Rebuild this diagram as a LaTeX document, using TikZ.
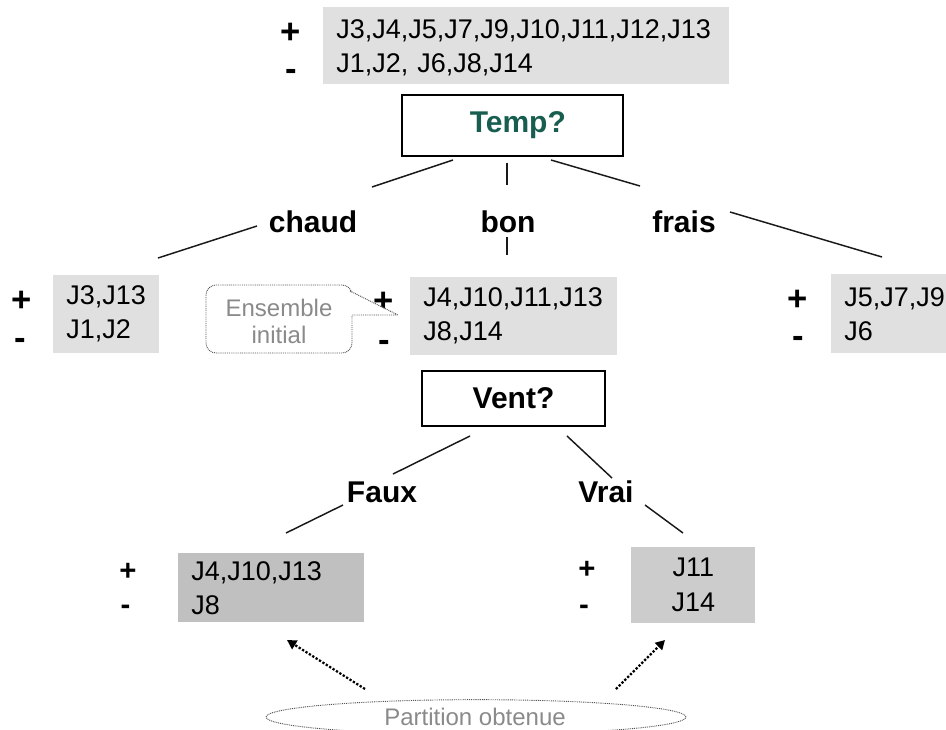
\documentclass[tikz,border=0pt]{standalone}
\usepackage{fontspec}
\setmainfont{Liberation Sans}
\usetikzlibrary{arrows.meta}
\definecolor{setgray}{HTML}{E0E0E0}
\definecolor{leafA}{HTML}{C0C0C0}
\definecolor{leafB}{HTML}{CCCCCC}
\definecolor{tempteal}{RGB}{24,94,80}
\definecolor{notegray}{HTML}{8A8A8A}
\definecolor{dotgray}{HTML}{555555}
\begin{document}
\begin{tikzpicture}[x=0.75pt,y=-0.75pt,
  setbox/.style={anchor=north west, fill=setgray, inner xsep=9.75pt, inner ysep=0pt,
    align=left, font=\fontsize{20.25}{25.5}\selectfont},
  testbox/.style={draw=black, fill=white, inner sep=0pt,
    font=\fontsize{22.5}{27}\selectfont\bfseries},
  branch/.style={anchor=base, inner sep=0pt, font=\fontsize{22.5}{27}\selectfont\bfseries},
  sign/.style={inner sep=0pt, font=\fontsize{26}{30}\selectfont\bfseries},
  smallsign/.style={inner sep=0pt, font=\fontsize{22}{26}\selectfont\bfseries},
  edge/.style={line width=1.1pt, draw=black!90},
  note/.style={draw=dotgray, line width=0.7pt, dash pattern=on 0.7pt off 0.7pt},
  notetext/.style={inner sep=0pt, align=center, text=notegray,
    font=\fontsize{18}{20.25}\selectfont},
  pointer/.style={line width=1.7pt, dash pattern=on 1.7pt off 1.3pt,
    -{Triangle[length=7pt,width=7.5pt]}}
]
\useasboundingbox (0,0) rectangle (946,729);
\clip (0,0) rectangle (946,729);

% ---- root set and first test
\node[setbox, text width=285pt, minimum height=57.75pt] (s0) at (323,7)
  {\rule{0pt}{17pt}J3,J4,J5,J7,J9,J10,J11,J12,J13\\J1,J2, J6,J8,J14};
\node[sign] (s0p) at (291,33) {+};
\node[sign] (s0m) at (291,75) {-};

\node[testbox, line width=1.4pt, minimum width=165.75pt, minimum height=45.75pt,
  text=tempteal] (temp) at (512.5,125.5) {\hspace*{8pt}Temp?};

% ---- branch labels of Temp?
\node[branch] (chaud) at (313,232) {chaud};
\node[branch] (bon) at (508,232) {bon};
\node[branch] (frais) at (684,232) {frais};

\coordinate (tA1) at (453,160); \coordinate (tA2) at (372,187);
\coordinate (tA3) at (257,226); \coordinate (tA4) at (158,258);
\coordinate (tB1) at (507,163); \coordinate (tB2) at (507,185);
\coordinate (tB3) at (507,237); \coordinate (tB4) at (507,255);
\coordinate (tC1) at (551,160); \coordinate (tC2) at (640,186);
\coordinate (tC3) at (730,212); \coordinate (tC4) at (882,257);
\draw[edge] (tA1) -- (tA2) (tA3) -- (tA4);
\draw[edge] (tB1) -- (tB2) (tB3) -- (tB4);
\draw[edge] (tC1) -- (tC2) (tC3) -- (tC4);

% ---- second level sets
\node[setbox, text width=60pt, minimum height=58.5pt] (sL) at (53,275) {J3,J13\\J1,J2};
\node[sign] (sLp) at (22,301) {+};
\node[sign] (sLm) at (20.5,344) {-};

\node[setbox, text width=135.75pt, minimum height=58.5pt] (sM) at (410,277) {J4,J10,J11,J13\\J8,J14};
\node[sign] (sMp) at (384,302) {+};
\node[sign] (sMm) at (384,346) {-};

\node[setbox, text width=85.5pt, minimum height=59.25pt] (sR) at (831,274) {J5,J7,J9\\J6};
\node[sign] (sRp) at (798,300) {+};
\node[sign] (sRm) at (798,342) {-};

% ---- callout naming the current set
\draw[note, rounded corners=7.5pt] (206,285) rectangle (352,353);
\fill[white] (350.5,292) -- (398,315) -- (350.5,315) -- cycle;
\coordinate (cpA) at (350,291); \coordinate (cpB) at (352,315);
\coordinate (cpTip) at (398,315);
\draw[note] (cpA) -- (cpTip) -- (cpB);
\node[notetext] (ens) at (279,321) {Ensemble\\initial};

% ---- second test
\node[testbox, line width=1pt, minimum width=137.25pt, minimum height=41.25pt,
  text=black] (vent) at (513.5,398.5) {Vent?};

\node[branch] (faux) at (382,502) {Faux};
\node[branch] (vrai) at (606,502) {Vrai};

\coordinate (vA1) at (470,436); \coordinate (vA2) at (393,474);
\coordinate (vA3) at (343,505); \coordinate (vA4) at (286,533);
\coordinate (vB1) at (567,436); \coordinate (vB2) at (612,478);
\coordinate (vB3) at (645,505); \coordinate (vB4) at (683,533);
\draw[edge] (vA1) -- (vA2) (vA3) -- (vA4);
\draw[edge] (vB1) -- (vB2) (vB3) -- (vB4);

% ---- leaves
\node[setbox, fill=leafA, text width=120pt, minimum height=51.75pt] (sF) at (178,553) {J4,J10,J13\\J8};
\node[smallsign] (sFp) at (128,572) {+};
\node[smallsign] (sFm) at (125.5,610) {-};

\node[setbox, fill=leafB, align=center, text width=73.5pt, minimum height=57pt,
  font=\fontsize{20.25}{26.25}\selectfont] (sV) at (631,547) {J11\\J14};
\node[smallsign] (sVp) at (587,570) {+};
\node[smallsign] (sVm) at (584,610) {-};

% ---- resulting partition
\draw[note] (476,717) ellipse [x radius=157.5pt, y radius=13pt];
\node[notetext, anchor=base] (part) at (475,725) {Partition obtenue};
\coordinate (pL) at (365,689); \coordinate (pR) at (616,689);
\coordinate (pLtip) at (287,640); \coordinate (pRtip) at (665,640);
\draw[pointer] (pL) -- (pLtip);
\draw[pointer] (pR) -- (pRtip);
\end{tikzpicture}
\end{document}
